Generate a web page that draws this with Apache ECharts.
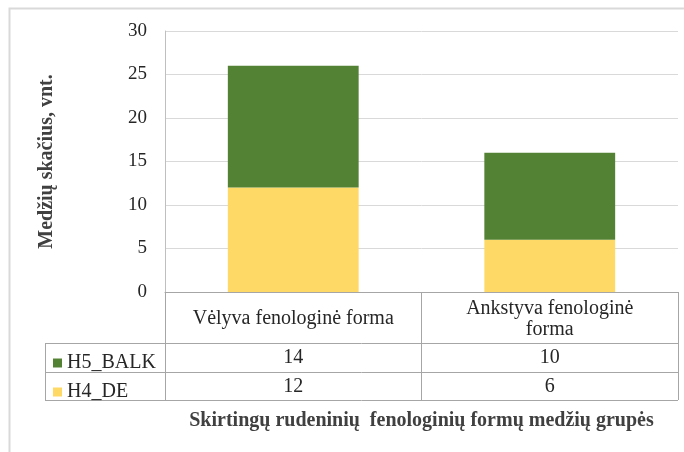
<!DOCTYPE html>
<html>
<head>
<meta charset="utf-8">
<script src="https://cdn.jsdelivr.net/npm/echarts@6/dist/echarts.min.js"></script>
<style>
  html, body { margin: 0; padding: 0; background: #fff; }
  #chart { width: 684px; height: 452px; }
</style>
</head>
<body>
<div id="chart"></div>
<script>
// data
const categories = ['Vėlyva fenologinė forma', 'Ankstyva fenologinė forma'];
const seriesNames = ['H4_DE', 'H5_BALK'];
const h4De = [12, 6];
const h5Balk = [14, 10];
const yTicks = [0, 5, 10, 15, 20, 25, 30];

const FONT = 'Liberation Serif';
const TXT = '#262626';
const TABLE_LINE = '#a6a6a6';

const chart = echarts.init(document.getElementById('chart'));

const tableLine = (x1, y1, x2, y2) => ({
  type: 'line',
  shape: { x1, y1, x2, y2 },
  style: { stroke: TABLE_LINE, lineWidth: 1 },
  silent: true
});

// rich text wrapper so the serif font is applied to every label
const serif = (size, extra) => Object.assign({ fontFamily: FONT, fontSize: size, color: TXT, fontWeight: 'normal' }, extra || {});
const wrap = (v) => '{t|' + v + '}';

const option = {
  backgroundColor: '#fff',
  animation: false,
  textStyle: { fontFamily: FONT },
  grid: { left: 165, right: 6, top: 31, bottom: 160 },
  legend: {
    data: [seriesNames[1], seriesNames[0]],
    orient: 'vertical',
    left: 48,
    top: 348,
    itemWidth: 9,
    itemHeight: 9,
    itemGap: 9,
    icon: 'rect',
    selectedMode: false,
    formatter: wrap,
    textStyle: Object.assign(serif(20), { lineHeight: 20, rich: { t: serif(20, { lineHeight: 20 }) } })
  },
  xAxis: [
    {
      type: 'category',
      data: categories,
      name: 'Skirtingų rudeninių  fenologinių formų medžių grupės',
      nameLocation: 'middle',
      nameGap: 129,
      nameTextStyle: { fontFamily: FONT, fontSize: 20, fontWeight: 'bold', color: '#404040', verticalAlign: 'middle' },
      axisLine: { lineStyle: { color: TABLE_LINE, width: 1 } },
      axisTick: { show: true, length: 108, lineStyle: { color: TABLE_LINE, width: 1 } },
      axisLabel: Object.assign(serif(20), {
        interval: 0,
        margin: 27,
        verticalAlign: 'middle',
        lineHeight: 21,
        // the second category wraps onto two lines like in the data table
        formatter: (v) => v.length > 24 ? v.replace(/ (\S+)$/, '\n$1') : v
      })
    },
    {
      type: 'category',
      position: 'bottom',
      data: h5Balk.map(String),
      axisLine: { show: false },
      axisTick: { show: false },
      axisLabel: Object.assign(serif(20), { interval: 0, margin: 66, verticalAlign: 'middle', formatter: wrap, rich: { t: serif(20) } })
    },
    {
      type: 'category',
      position: 'bottom',
      data: h4De.map(String),
      axisLine: { show: false },
      axisTick: { show: false },
      axisLabel: Object.assign(serif(20), { interval: 0, margin: 95, verticalAlign: 'middle', formatter: wrap, rich: { t: serif(20) } })
    }
  ],
  yAxis: {
    type: 'value',
    min: yTicks[0],
    max: yTicks[yTicks.length - 1],
    interval: 5,
    name: 'Medžių skačius, vnt.',
    nameLocation: 'middle',
    nameRotate: 90,
    nameGap: 108,
    nameTextStyle: { fontFamily: FONT, fontSize: 20, fontWeight: 'bold', color: '#404040' },
    axisLine: { show: true, lineStyle: { color: '#bfbfbf', width: 1 } },
    axisTick: { show: false },
    axisLabel: Object.assign(serif(19), { margin: 18, formatter: wrap, rich: { t: serif(19) } }),
    splitLine: { lineStyle: { color: '#d9d9d9', width: 1 } }
  },
  series: [
    {
      name: seriesNames[0],
      type: 'bar',
      stack: 'total',
      barWidth: '51%',
      itemStyle: { color: '#ffd966' },
      data: h4De
    },
    {
      name: seriesNames[1],
      type: 'bar',
      stack: 'total',
      barWidth: '51%',
      itemStyle: { color: '#548235' },
      data: h5Balk
    }
  ],
  graphic: [
    // outer chart frame
    {
      type: 'rect',
      shape: { x: 9.5, y: 8.5, width: 700, height: 460 },
      style: { fill: 'none', stroke: '#d9d9d9', lineWidth: 2 },
      silent: true
    },
    // data table rows
    tableLine(45, 343.5, 678, 343.5),
    tableLine(45, 372.5, 678, 372.5),
    tableLine(45, 400.5, 678, 400.5),
    tableLine(45.5, 343, 45.5, 400)
  ]
};

chart.setOption(option);
</script>
</body>
</html>
